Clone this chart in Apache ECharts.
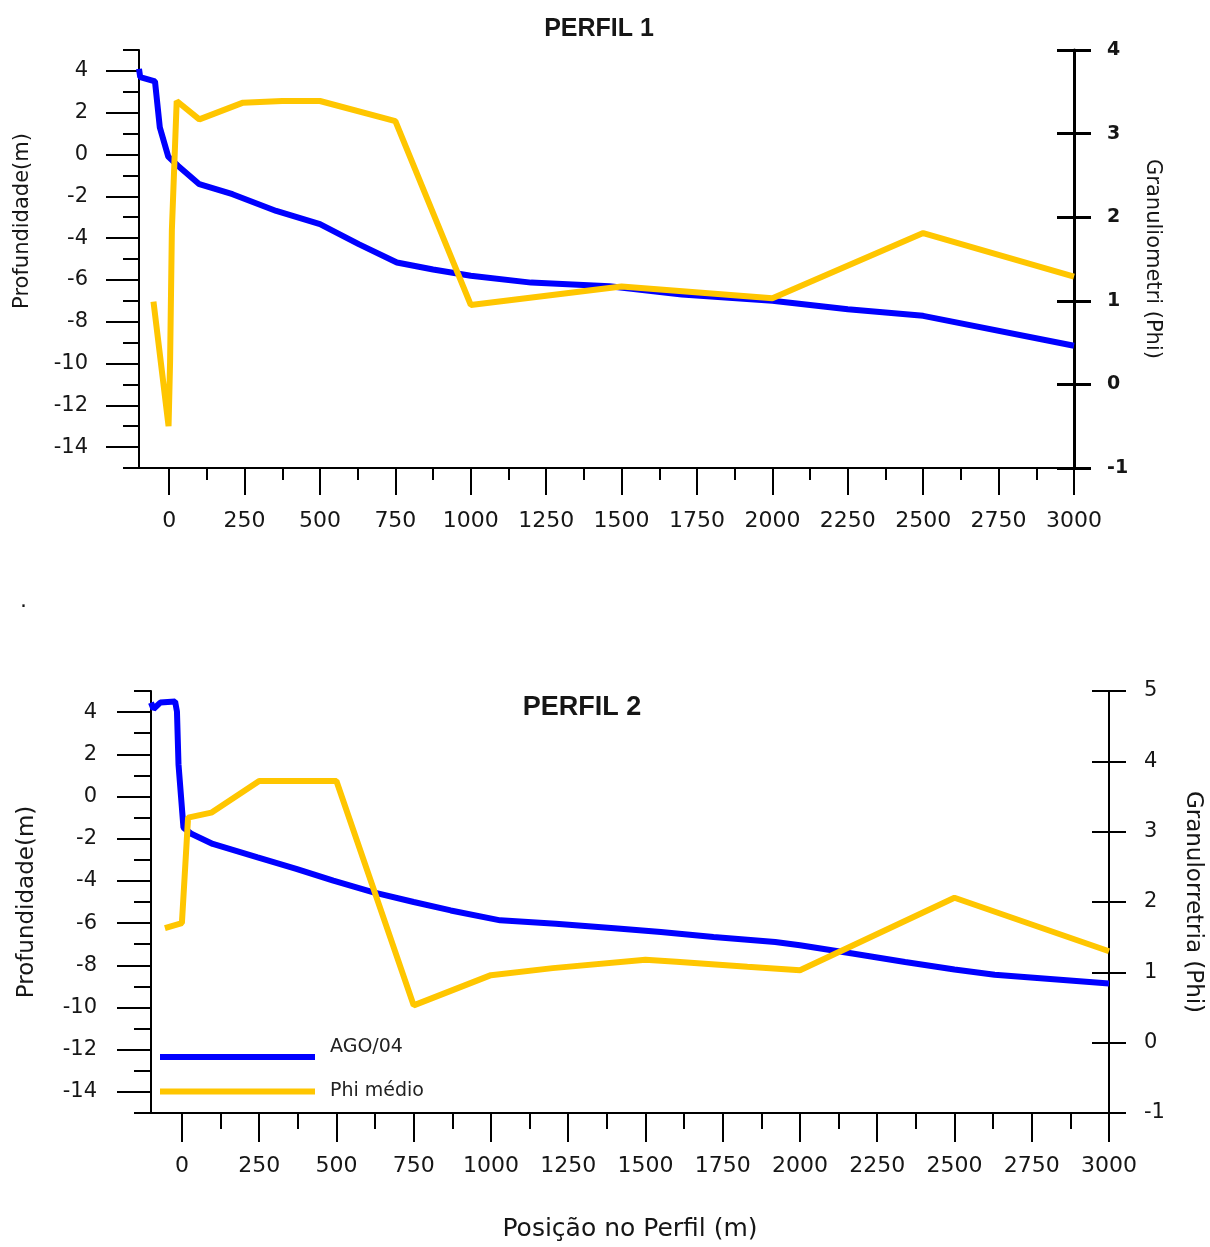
<!DOCTYPE html>
<html>
<head>
<meta charset="utf-8">
<script src="https://cdn.jsdelivr.net/npm/echarts@6/dist/echarts.min.js"></script>
<style>
html,body{margin:0;padding:0;background:#ffffff;}
#chart{width:1210px;height:1247px;}
</style>
</head>
<body>
<div id="chart"></div>
<script>
// ---- data ----
var titles = ['PERFIL 1', 'PERFIL 2'];
var seriesNames = ['AGO/04', 'Phi médio'];

// Perfil 1 : depth (m) vs position (m)
var p1DepthX = [-100, -96, -47, -31, -3, 30, 100, 210, 355, 500, 630, 755, 875, 1000, 1200, 1460, 1700, 2000, 2250, 2500, 3000];
var p1DepthY = [4.1, 3.7, 3.5, 1.3, -0.1, -0.55, -1.42, -1.9, -2.7, -3.33, -4.3, -5.17, -5.5, -5.8, -6.13, -6.3, -6.7, -7.0, -7.4, -7.72, -9.15];
// Perfil 1 : mean grain size (Phi)
var p1PhiX = [-52, -2, 3, 6, 9, 25, 100, 245, 375, 500, 750, 1000, 1500, 2000, 2500, 3000];
var p1PhiY = [0.99, -0.5, 0.26, 1.05, 1.85, 3.39, 3.17, 3.37, 3.39, 3.39, 3.15, 0.95, 1.17, 1.03, 1.81, 1.29];

// Perfil 2 : depth (m)
var p2DepthX = [-100, -92, -70, -22, -16, -11, 5, 32, 100, 245, 370, 490, 620, 750, 870, 1030, 1210, 1410, 1550, 1720, 1920, 2000, 2170, 2340, 2500, 2630, 3000];
var p2DepthY = [4.45, 4.15, 4.45, 4.5, 4.03, 1.52, -1.47, -1.78, -2.25, -2.89, -3.43, -3.99, -4.54, -5.0, -5.4, -5.87, -6.03, -6.26, -6.42, -6.66, -6.9, -7.05, -7.44, -7.84, -8.2, -8.45, -8.86];
// Perfil 2 : mean grain size (Phi)
var p2PhiX = [-55, 0, 20, 95, 250, 500, 750, 1000, 1200, 1500, 1600, 1830, 2000, 2500, 3000];
var p2PhiY = [1.63, 1.70, 3.20, 3.27, 3.72, 3.72, 0.53, 0.96, 1.06, 1.18, 1.15, 1.08, 1.03, 2.06, 1.30];

// tick labels
var xMajorTicks = [0, 250, 500, 750, 1000, 1250, 1500, 1750, 2000, 2250, 2500, 2750, 3000];
var xMinorTicks = [125, 375, 625, 875, 1125, 1375, 1625, 1875, 2125, 2375, 2625, 2875];
var depthTicks = [-14, -12, -10, -8, -6, -4, -2, 0, 2, 4];

function zip(xs, ys) { return xs.map(function (x, i) { return [x, ys[i]]; }); }
function plain(v) { return String(v); }

var BLUE = '#0000ff', YELLOW = '#ffc600', INK = '#000000', TXT = '#161616';
var FONT = 'DejaVu Sans';

function xAxes(grid, majorLen, minorLen, name) {
  return [
    {
      type: 'value', gridIndex: grid, position: 'bottom', min: -100, max: 3000,
      name: name || '', nameLocation: 'middle', nameGap: 104,
      nameTextStyle: { fontFamily: FONT, fontSize: 25, color: TXT },
      axisLine: { onZero: false, lineStyle: { color: INK, width: 2 } },
      axisTick: { customValues: xMajorTicks, length: majorLen, lineStyle: { color: INK, width: 2 } },
      axisLabel: { customValues: xMajorTicks, formatter: plain, margin: 42, fontFamily: FONT, fontSize: 22, color: TXT },
      splitLine: { show: false }
    },
    {
      type: 'value', gridIndex: grid, position: 'bottom', min: -100, max: 3000,
      axisLine: { show: false, onZero: false },
      axisTick: { customValues: xMinorTicks, length: minorLen, lineStyle: { color: INK, width: 2 } },
      axisLabel: { show: false },
      splitLine: { show: false }
    }
  ];
}

function yAxes(grid, opts) {
  return [
    {
      type: 'value', gridIndex: grid, position: 'left', min: -15, max: 5,
      name: 'Profundidade(m)', nameLocation: 'middle', nameRotate: 90, nameGap: opts.leftNameGap,
      nameTextStyle: { fontFamily: FONT, fontSize: opts.leftNameSize, color: TXT, padding: opts.leftNamePad },
      axisLine: { onZero: false, lineStyle: { color: INK, width: 2 } },
      axisTick: { customValues: depthTicks, length: opts.leftMajor, lineStyle: { color: INK, width: 2 } },
      axisLabel: { customValues: depthTicks, formatter: plain, margin: opts.leftMargin, fontFamily: FONT, fontSize: 21, color: TXT },
      splitLine: { show: false }
    },
    {
      type: 'value', gridIndex: grid, position: 'left', min: -15, max: 5, interval: 1,
      axisLine: { show: false, onZero: false },
      axisTick: { length: opts.leftMinor, lineStyle: { color: INK, width: 2 } },
      axisLabel: { show: false },
      splitLine: { show: false }
    },
    {
      type: 'value', gridIndex: grid, position: 'right', min: -1, max: opts.phiMax, interval: 1,
      name: opts.rightName, nameLocation: 'middle', nameRotate: -90, nameGap: opts.rightNameGap,
      nameTextStyle: { fontFamily: FONT, fontSize: opts.rightNameSize, color: TXT },
      axisLine: { onZero: false, lineStyle: { color: INK, width: opts.rightWidth } },
      axisTick: { length: 17, lineStyle: { color: INK, width: opts.rightWidth } },
      axisLabel: { formatter: plain, margin: opts.rightMargin, fontFamily: FONT, fontSize: opts.rightLabelSize, fontWeight: opts.rightWeight, color: TXT },
      splitLine: { show: false }
    },
    {
      type: 'value', gridIndex: grid, position: 'right', min: -1, max: opts.phiMax, interval: 1,
      axisLine: { show: false, onZero: false },
      axisTick: { inside: true, length: 17, lineStyle: { color: INK, width: opts.rightWidth } },
      axisLabel: { show: false },
      splitLine: { show: false }
    }
  ];
}

var chart = echarts.init(document.getElementById('chart'), null, { renderer: 'canvas' });

// legend icons: a 155x25 box with the stroke placed low (item 1) or centred (item 2)
var ICON_LOW = 'path://M0,0 L0.1,0 L0.1,0.1 Z M0,19 L155,19 L155,25 L0,25 Z';
var ICON_MID = 'path://M0,0 L0.1,0 L0.1,0.1 Z M0,9.5 L155,9.5 L155,15.5 L0,15.5 Z M0,25 L0.1,25 L0.1,24.9 Z';

var option = {
  backgroundColor: '#ffffff',
  animation: false,
  textStyle: { fontFamily: FONT },
  title: [
    { text: titles[0], left: 594, top: 12, textAlign: 'center',
      textStyle: { fontFamily: 'Liberation Sans', fontSize: 25, fontWeight: 'bold', color: TXT } },
    { text: titles[1], left: 577, top: 689, textAlign: 'center',
      textStyle: { fontFamily: 'Liberation Sans', fontSize: 27, fontWeight: 'bold', color: TXT } }
  ],
  legend: {
    show: true,
    orient: 'vertical',
    left: 155, top: 1030,
    itemWidth: 155, itemHeight: 25, itemGap: 19,
    data: [
      { name: seriesNames[0], icon: ICON_LOW, itemStyle: { color: BLUE } },
      { name: seriesNames[1], icon: ICON_MID, itemStyle: { color: YELLOW } }
    ],
    textStyle: { fontFamily: FONT, fontSize: 19, color: '#222', padding: [0, 0, 0, 10] }
  },
  graphic: [
    { type: 'text', left: 20, top: 590, style: { text: '.', fontSize: 22, fill: TXT, fontFamily: FONT } }
  ],
  grid: [
    { left: 139, right: 136, top: 50, height: 418, outerBoundsMode: 'none', containLabel: false },
    { left: 151, right: 101, top: 691, height: 422, outerBoundsMode: 'none', containLabel: false }
  ],
  xAxis: [].concat(xAxes(0, 27, 12, ''), xAxes(1, 29, 16, 'Posição no Perfil (m)')),
  yAxis: [].concat(
    yAxes(0, { leftNameGap: 106, leftNameSize: 21, leftNamePad: [0, 0, 0, 76], leftMajor: 33, leftMinor: 16, leftMargin: 51,
               phiMax: 4, rightName: 'Granuliometri (Phi)', rightNameGap: 68, rightNameSize: 21,
               rightWidth: 3, rightMargin: 33, rightLabelSize: 19, rightWeight: 'bold' }),
    yAxes(1, { leftNameGap: 112, leftNameSize: 23, leftNamePad: [0, 0, 0, 0], leftMajor: 34, leftMinor: 17, leftMargin: 54,
               phiMax: 5, rightName: 'Granulorretria (Phi)', rightNameGap: 72, rightNameSize: 23,
               rightWidth: 2, rightMargin: 35, rightLabelSize: 21, rightWeight: 'normal' })
  ),
  series: [
    { name: seriesNames[0], type: 'line', xAxisIndex: 0, yAxisIndex: 0, data: zip(p1DepthX, p1DepthY),
      showSymbol: false, symbol: 'none', lineStyle: { color: BLUE, width: 6 }, itemStyle: { color: BLUE }, z: 3 },
    { name: seriesNames[1], type: 'line', xAxisIndex: 0, yAxisIndex: 2, data: zip(p1PhiX, p1PhiY),
      showSymbol: false, symbol: 'none', lineStyle: { color: YELLOW, width: 6 }, itemStyle: { color: YELLOW }, z: 4 },
    { name: seriesNames[0], type: 'line', xAxisIndex: 2, yAxisIndex: 4, data: zip(p2DepthX, p2DepthY),
      showSymbol: false, symbol: 'none', lineStyle: { color: BLUE, width: 6 }, itemStyle: { color: BLUE }, z: 3 },
    { name: seriesNames[1], type: 'line', xAxisIndex: 2, yAxisIndex: 6, data: zip(p2PhiX, p2PhiY),
      showSymbol: false, symbol: 'none', lineStyle: { color: YELLOW, width: 6 }, itemStyle: { color: YELLOW }, z: 4 }
  ]
};
chart.setOption(option);
</script>
</body>
</html>
